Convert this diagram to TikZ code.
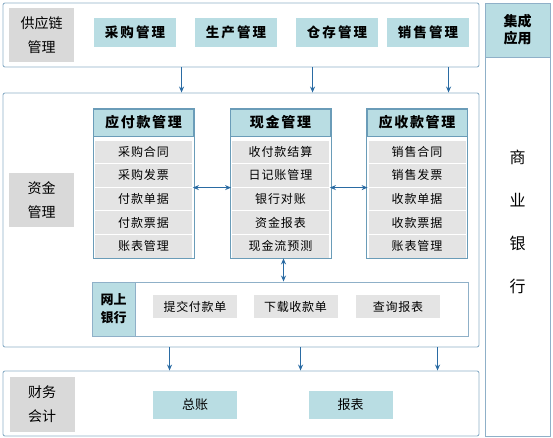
\documentclass[tikz,border=0pt]{standalone}
\usepackage{fontspec}
\setmainfont{Noto Sans CJK SC}
\definecolor{panelc}{HTML}{8FB0C8}
\definecolor{tblc}{HTML}{6A9CB8}
\definecolor{tealc}{HTML}{B9DDE3}
\definecolor{tagc}{HTML}{D9D9D9}
\definecolor{rowc}{HTML}{E4E4E4}
\definecolor{arrc}{HTML}{2A6BA3}
\tikzset{
  panel/.style={draw=panelc, line width=0.9pt, rounded corners=2pt, fill=white, inner sep=0pt},
  tagbox/.style={fill=tagc, minimum width=65pt, minimum height=54pt, align=center, font=\fontsize{14}{24}\selectfont},
  modbox/.style={fill=tealc, minimum width=82pt, minimum height=29pt, font=\fontsize{13.5}{15}\selectfont\bfseries\addfontfeatures{LetterSpace=15}},
  hdr/.style={fill=tealc, draw=tblc, line width=0.6pt, minimum width=100pt, minimum height=27pt, font=\fontsize{14}{16}\selectfont\bfseries\addfontfeatures{LetterSpace=12}},
  rowbox/.style={fill=rowc, draw=white, line width=0.8pt, minimum width=98pt, minimum height=23.6pt, font=\fontsize{12}{14}\selectfont\addfontfeatures{LetterSpace=8}},
  btn/.style={fill=rowc, minimum width=84pt, minimum height=23pt, font=\fontsize{12}{14}\selectfont\addfontfeatures{LetterSpace=6}},
  flow/.style={draw=arrc, line width=1.4pt, -{Stealth[length=6pt,width=5pt]}},
  link/.style={draw=arrc, line width=1.4pt, {Stealth[length=6pt,width=5pt]}-{Stealth[length=6pt,width=5pt]}}
}
\usetikzlibrary{arrows.meta}
\begin{document}
\begin{tikzpicture}[x=1pt, y=-1pt]
    \useasboundingbox (0,0) rectangle (553,438);
    % Draw the side column
    \node[draw=panelc, line width=0.9pt, fill=white, minimum width=65pt, minimum height=433pt] (side) at (517.5,219.5) {};
    \node[fill=tealc, draw=panelc, line width=0.9pt, minimum width=65pt, minimum height=54pt, align=center, font=\fontsize{14}{17}\selectfont\bfseries] (sidehdr) at (517.5,30) {集成\\应用};
    \node[font=\fontsize{16}{18}\selectfont] (bk1) at (517.5,157) {商};
    \node[font=\fontsize{16}{18}\selectfont] (bk2) at (517.5,200) {业};
    \node[font=\fontsize{16}{18}\selectfont] (bk3) at (517.5,243) {银};
    \node[font=\fontsize{16}{18}\selectfont] (bk4) at (517.5,286) {行};
    % Draw the supply chain panel
    \node[panel, minimum width=476pt, minimum height=64pt] (supply) at (241,35) {};
    \node[tagbox] (supplytag) at (41.5,35) {供应链\\管理};
    \node[modbox] (buy) at (135,32.5) {采购管理};
    \node[modbox] (make) at (236,32.5) {生产管理};
    \node[modbox] (store) at (337,32.5) {仓存管理};
    \node[modbox] (sell) at (428,32.5) {销售管理};
    % Draw the funds panel
    \node[panel, minimum width=476pt, minimum height=254pt] (funds) at (241,220) {};
    \node[tagbox] (fundstag) at (41.5,200) {资金\\管理};
    % Draw the payable table
    \node[hdr] (pay) at (143.5,122.5) {应付款管理};
    \node[rowbox] (pay1) at (143.5,151.8) {采购合同};
    \node[rowbox] (pay2) at (143.5,175.4) {采购发票};
    \node[rowbox] (pay3) at (143.5,199) {付款单据};
    \node[rowbox] (pay4) at (143.5,222.6) {付款票据};
    \node[rowbox] (pay5) at (143.5,246.2) {账表管理};
    \draw[tblc, line width=0.6pt] (pay.north west) rectangle ([xshift=1pt]pay5.south east);
    % Draw the cash table
    \node[hdr] (cash) at (280.5,122.5) {现金管理};
    \node[rowbox] (cash1) at (280.5,151.8) {收付款结算};
    \node[rowbox] (cash2) at (280.5,175.4) {日记账管理};
    \node[rowbox] (cash3) at (280.5,199) {银行对账};
    \node[rowbox] (cash4) at (280.5,222.6) {资金报表};
    \node[rowbox] (cash5) at (280.5,246.2) {现金流预测};
    \draw[tblc, line width=0.6pt] (cash.north west) rectangle ([xshift=1pt]cash5.south east);
    % Draw the receivable table
    \node[hdr] (recv) at (417,122.5) {应收款管理};
    \node[rowbox] (recv1) at (417,151.8) {销售合同};
    \node[rowbox] (recv2) at (417,175.4) {销售发票};
    \node[rowbox] (recv3) at (417,199) {收款单据};
    \node[rowbox] (recv4) at (417,222.6) {收款票据};
    \node[rowbox] (recv5) at (417,246.2) {账表管理};
    \draw[tblc, line width=0.6pt] (recv.north west) rectangle ([xshift=1pt]recv5.south east);
    % Draw the online bank strip
    \node[draw=panelc, line width=0.9pt, fill=white, minimum width=376pt, minimum height=54pt] (bank) at (280,309) {};
    \node[fill=tealc, draw=panelc, line width=0.9pt, minimum width=43pt, minimum height=54pt, align=center, font=\fontsize{13}{18}\selectfont\bfseries] (banktag) at (113.5,309) {网上\\银行};
    \node[btn] (submit) at (195,306.5) {提交付款单};
    \node[btn] (fetch) at (295.5,306.5) {下载收款单};
    \node[btn] (query) at (398,306.5) {查询报表};
    % Draw the accounting panel
    \node[panel, minimum width=476pt, minimum height=65pt] (acct) at (241,403.5) {};
    \node[tagbox, minimum height=55pt] (accttag) at (42,404.5) {财务\\会计};
    \node[modbox, minimum width=84pt, minimum height=28pt, font=\fontsize{13}{15}\selectfont] (ledger) at (195,405) {总账};
    \node[modbox, minimum width=84pt, minimum height=28pt, font=\fontsize{13}{15}\selectfont] (report) at (350.5,405) {报表};
    % Draw the arrows
    \draw[flow] ([xshift=179pt]supply.south west) -- ([xshift=179pt]funds.north west);
    \draw[flow] ([xshift=310pt]supply.south west) -- ([xshift=310pt]funds.north west);
    \draw[flow] ([xshift=446pt]supply.south west) -- ([xshift=446pt]funds.north west);
    \draw[link] (pay2.south east) -- (cash2.south west);
    \draw[link] (cash2.south east) -- (recv2.south west);
    \draw[link] ([xshift=3pt]cash5.south) -- ([xshift=3pt]cash5.south |- bank.north);
    \draw[flow] ([xshift=167pt]funds.south west) -- ([xshift=167pt]acct.north west);
    \draw[flow] ([xshift=298pt]funds.south west) -- ([xshift=298pt]acct.north west);
    \draw[flow] ([xshift=435pt]funds.south west) -- ([xshift=435pt]acct.north west);
\end{tikzpicture}
\end{document}
